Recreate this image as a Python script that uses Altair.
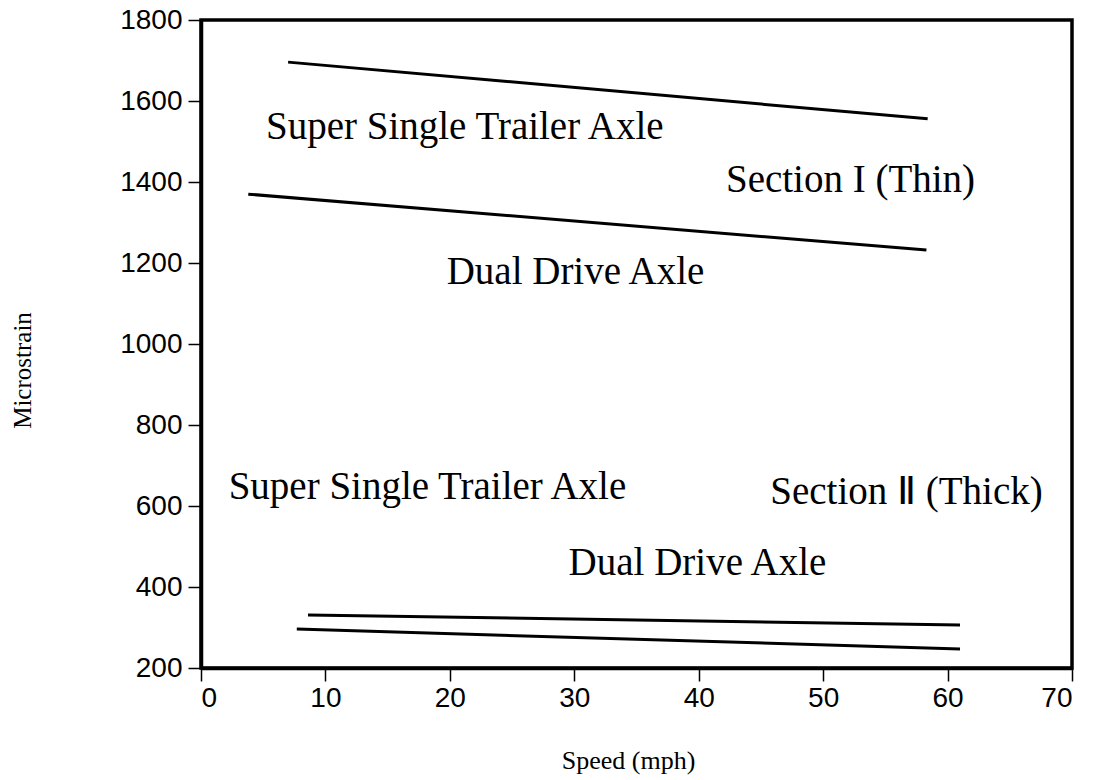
import altair as alt
import pandas as pd

# Line series (speed mph, microstrain) — endpoints
series = ["Thin SST", "Thin DDA", "Thick SST", "Thick DDA"]
speed_start = [7.0, 3.8, 8.6, 7.7]
speed_end = [58.4, 58.3, 61.0, 61.0]
strain_start = [1696, 1370, 331, 296]
strain_end = [1556, 1232, 306, 247]

# Annotation labels
label_text = ["Super Single Trailer Axle", "Section I (Thin)", "Dual Drive Axle",
              "Super Single Trailer Axle", "Section \u2161 (Thick)", "Dual Drive Axle"]
label_x = [21.2, 52.2, 30.1, 18.2, 56.7, 39.9]
label_y = [1536, 1405, 1178, 647, 635, 459]

x_ticks = [0, 10, 20, 30, 40, 50, 60, 70]
y_ticks = [200, 400, 600, 800, 1000, 1200, 1400, 1600, 1800]

rows = []
for s, xs, xe, ys, ye in zip(series, speed_start, speed_end, strain_start, strain_end):
    rows.append({"series": s, "speed": xs, "strain": ys, "order": 0})
    rows.append({"series": s, "speed": xe, "strain": ye, "order": 1})
lines_df = pd.DataFrame(rows)
labels_df = pd.DataFrame({"text": label_text, "x": label_x, "y": label_y})

x_scale = alt.Scale(domain=[0, 70], nice=False, zero=False)
y_scale = alt.Scale(domain=[200, 1800], nice=False, zero=False)

x_axis = alt.Axis(values=x_ticks, title="Speed (mph)", grid=False, format="d",
                  labelFont="Liberation Sans", labelFontSize=28, labelColor="black",
                  labelPadding=3, tickSize=13, tickWidth=1.5, tickColor="black",
                  domainColor="black", domainWidth=3.5,
                  titleFont="Liberation Serif", titleFontSize=26, titleFontWeight="normal",
                  titleColor="black", titleX=427, titleY=92, titleBaseline="middle",
                  titleAlign="center")
y_axis = alt.Axis(values=y_ticks, title="Microstrain", grid=False, format="d",
                  labelFont="Liberation Sans", labelFontSize=28, labelColor="black",
                  labelPadding=6, tickSize=13, tickWidth=1.5, tickColor="black",
                  domainColor="black", domainWidth=3.5,
                  titleFont="Liberation Serif", titleFontSize=25, titleFontWeight="normal",
                  titleColor="black", titleX=-179, titleY=350, titleBaseline="middle",
                  titleAlign="center", titleAngle=270)

lines = alt.Chart(lines_df).mark_line(color="black", strokeWidth=3).encode(
    x=alt.X("speed:Q", scale=x_scale, axis=x_axis),
    y=alt.Y("strain:Q", scale=y_scale, axis=y_axis),
    detail="series:N",
    order="order:Q",
)

labels = alt.Chart(labels_df).mark_text(
    font="Liberation Serif", fontSize=39, color="black", align="center", baseline="middle"
).encode(
    x=alt.X("x:Q", scale=x_scale),
    y=alt.Y("y:Q", scale=y_scale),
    text="text:N",
)

chart = (lines + labels).properties(
    width=871, height=648,
    autosize=alt.AutoSizeParams(type="none"),
    padding={"left": 201, "top": 20, "right": 23, "bottom": 112},
    background="white",
).configure_view(stroke="black", strokeWidth=3.5)

chart.save("out.html", embed_options={"renderer": "svg", "actions": False})
